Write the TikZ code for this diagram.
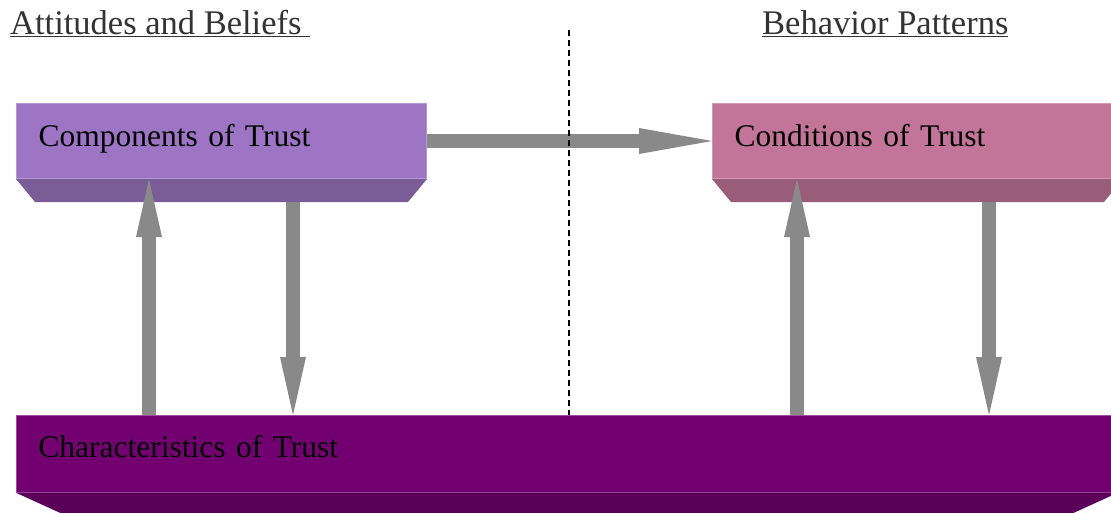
\documentclass[tikz,border=0pt]{standalone}
\usepackage{fontspec}
\setmainfont{Liberation Serif}
\usepackage{tikz}
\usetikzlibrary{arrows.meta,calc,positioning}
\definecolor{compcolor}{HTML}{9D75C4}
\definecolor{compdark}{HTML}{7A5C96}
\definecolor{condcolor}{HTML}{C37599}
\definecolor{conddark}{HTML}{995C7A}
\definecolor{charcolor}{HTML}{730070}
\definecolor{chardark}{HTML}{5B0059}
\definecolor{arrowgray}{HTML}{898989}
\definecolor{headgray}{HTML}{333333}

\begin{document}
\begin{tikzpicture}[x=1pt, y=-1pt,
    box/.style={rectangle, anchor=north west, minimum height=75pt, minimum width=410pt,
        text width=366pt, inner xsep=22pt, align=left, text height=22pt, text depth=11pt,
        font=\fontsize{31.5}{38}\selectfont},
    heading/.style={anchor=base west, inner sep=0pt, text=headgray,
        font=\fontsize{34.5}{40}\selectfont},
    bigarrow/.style={line width=14pt, draw=arrowgray,
        -{Triangle[length=58pt, width=26pt, line width=0pt]}}]
    \useasboundingbox (0,0) rectangle (1111,512);
    \clip (0,0) rectangle (1111,512);

    % headings
    \node[heading] (attitudes) at (10,34) {\underline{Attitudes and Beliefs\ }};
    \node[heading] (behavior) at (762,34) {\underline{Behavior Patterns}};

    % boxes with bevels
    \node[box, fill=compcolor, draw=compcolor!75!white, line width=1pt] (comp) at (16,103) {Components of Trust};
    \fill[compdark] (comp.south west) -- (comp.south east) -- ++(-19,23)
        -- ($(comp.south west)+(19,23)$) -- cycle;

    \node[box, fill=condcolor, draw=condcolor!75!white, line width=1pt] (cond) at (712,103) {Conditions of Trust};
    \fill[conddark] (cond.south west) -- (cond.south east) -- ++(-19,23)
        -- ($(cond.south west)+(19,23)$) -- cycle;

    \node[box, fill=charcolor, draw=charcolor!70!white, line width=0.8pt, minimum height=77pt,
          minimum width=1101pt, text width=1057pt, text depth=15pt] (chars) at (16,415) {Characteristics of Trust};
    \fill[chardark] (chars.south west) -- (chars.south east) -- ++(-88,40)
        -- ($(chars.south west)+(88,40)$) -- cycle;

    % arrow positions
    \coordinate (compbase) at ($(comp.south)+(0,23)$);
    \coordinate (condbase) at ($(cond.south)+(0,23)$);
    \coordinate (up1) at (149,0);
    \coordinate (down1) at (293,0);
    \coordinate (up2) at (797,0);
    \coordinate (down2) at (989,0);

    % arrows
    \draw[bigarrow, -{Triangle[length=73pt, width=26pt, line width=0pt]}] (comp.east) -- (cond.west);
    \draw[bigarrow] (up1 |- chars.north) -- (up1 |- comp.south);
    \draw[bigarrow] (down1 |- compbase) -- (down1 |- chars.north);
    \draw[bigarrow] (up2 |- chars.north) -- (up2 |- cond.south);
    \draw[bigarrow] (down2 |- condbase) -- (down2 |- chars.north);

    % divider
    \coordinate (divtop) at (569,30);
    \draw[dash pattern=on 6pt off 4pt, line width=1.2pt] (divtop) -- (divtop |- chars.north);
\end{tikzpicture}
\end{document}
